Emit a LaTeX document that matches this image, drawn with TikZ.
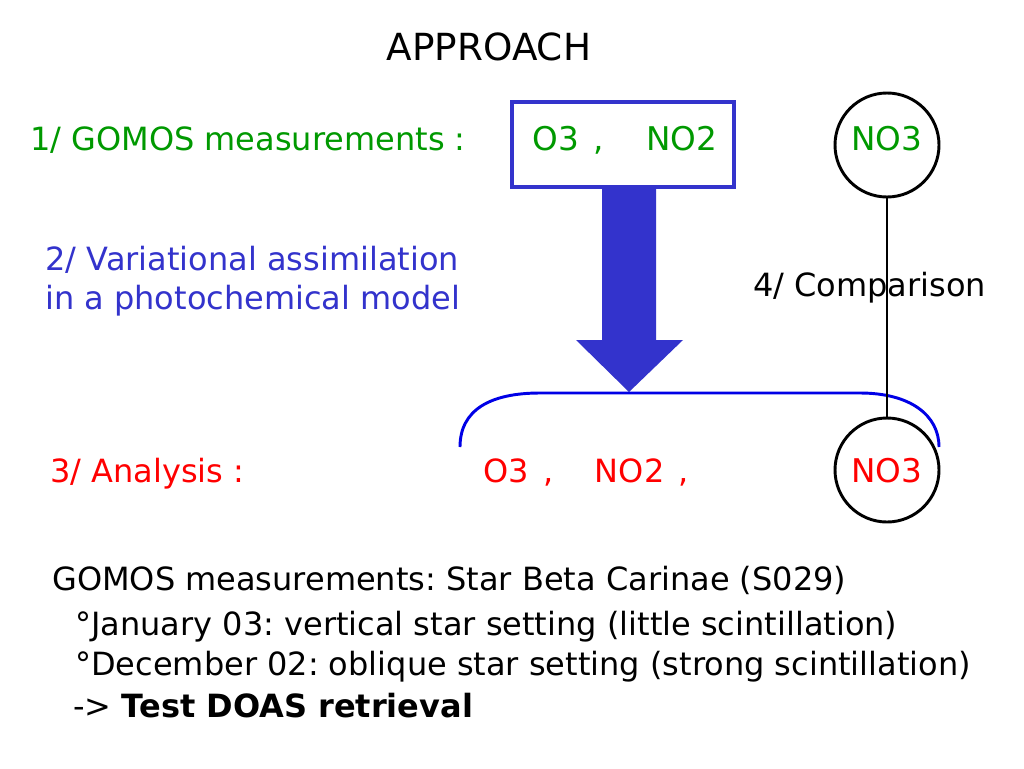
\documentclass[tikz,border=0pt]{standalone}
\usepackage{fontspec}
\setmainfont{DejaVu Sans}
\usetikzlibrary{calc}
\definecolor{grn}{RGB}{0,153,0}
\definecolor{bluetxt}{RGB}{51,51,204}
\definecolor{brk}{RGB}{0,0,230}
\begin{document}
\frenchspacing
\begin{tikzpicture}[x=0.75pt,y=-0.75pt,
  txt/.style={inner sep=0pt,anchor=base west,font=\fontsize{24}{28}\selectfont},
  ctxt/.style={inner sep=0pt,anchor=base,font=\fontsize{24.5}{28}\selectfont},
  circ/.style={circle,draw=black,line width=2.2pt,minimum size=104*0.75pt,inner sep=0pt}]
\useasboundingbox (0,0) rectangle (1024,768);
\fill[white] (0,0) rectangle (1024,768);
% title
\node[inner sep=0pt,anchor=base,font=\fontsize{28}{32}\selectfont] (title) at (489,60) {APPROACH};
% row 1
\node[txt,text=grn] (l1) at (30,150) {1/ GOMOS measurements :};
\draw[draw=bluetxt,line width=2.5pt] (512,102) rectangle (734,187);
\node[ctxt,text=grn] (obs) at (625,150) {O3\hspace{0.45em},\hspace{1.3em}NO2};
\node[circ] (c1) at (887,145) {};
\node[ctxt,text=grn] (no3a) at (887,150) {NO3};
% row 2
\node[txt,text=bluetxt] (l2a) at (45,270) {2/ Variational assimilation};
\node[txt,text=bluetxt] (l2b) at (45,309) {in a photochemical model};
% block arrow
\fill[bluetxt] (602,187) -- (656,187) -- (656,340) -- (683,340) -- (629,392) -- (576,340) -- (602,340) -- cycle;
% bracket
\draw[draw=brk,line width=2.2pt] (460,447) .. controls (460,410) and (490,393) .. (540,393) -- (860,393) .. controls (910,393) and (939,415) .. (939,447);
% row 3
\node[circ] (c2) at (887,470) {};
\draw[line width=1.6pt] (c1.south) -- (c2.north);
\node[txt,text=black] (l4) at (753,296) {4/ Comparison};
\node[txt,text=red] (l3) at (50,482) {3/ Analysis :};
\node[txt,text=red] (an) at (483,482) {O3\hspace{0.45em},\hspace{1.3em}NO2\hspace{0.45em},};
\node[ctxt,text=red] (no3b) at (887,482) {NO3};
% bottom text
\node[txt] (b1) at (52,590) {GOMOS measurements: Star Beta Carinae (S029)};
\node[txt] (b2) at (75,635) {°January 03: vertical star setting (little scintillation)};
\node[txt] (b3) at (75,675) {°December 02: oblique star setting (strong scintillation)};
\node[txt] (b4) at (73,717) {-> \textbf{Test DOAS retrieval}};
\end{tikzpicture}
\end{document}
